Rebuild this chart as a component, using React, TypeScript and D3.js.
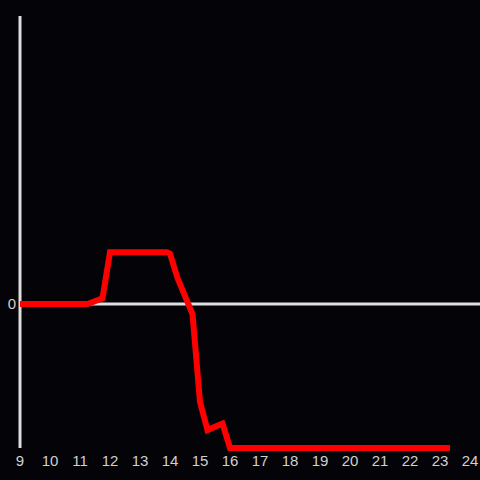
import React from "react";
import * as d3 from "d3";

const hours = [9, 11.25, 11.75, 12, 13.9, 14, 14.25, 14.75, 15, 15.25, 15.75, 16, 23.33];
const values = [0, 0, 0.04, 0.36, 0.36, 0.35, 0.18, -0.07, -0.68, -0.875, -0.83, -1, -1];
const xTicks = d3.range(9, 25);
const yTicks = [0];

export default function App() {
  const W = 480, H = 480;
  const x = d3.scaleLinear().domain([9, 24]).range([20, 470]);
  const y = d3.scaleLinear().domain([-1, 2]).range([448, 16]);
  const pts: [number, number][] = hours.map((h, i) => [h, values[i]]);
  const line = d3.line<[number, number]>().x(d => x(d[0])).y(d => y(d[1]));
  return (
    <svg width={W} height={H} style={{ position: "absolute", left: 0, top: 0, background: "#040307" }}>
      <rect x={0} y={0} width={W} height={H} fill="#040307" />
      <line x1={x(9)} x2={480} y1={y(0)} y2={y(0)} stroke="#dedede" strokeWidth={3} />
      <line x1={x(9)} x2={x(9)} y1={y(2)} y2={y(-1)} stroke="#dedede" strokeWidth={3} />
      <path d={line(pts) || ""} fill="none" stroke="#ff0000" strokeWidth={6} strokeLinejoin="miter" />
      {yTicks.map(t => (
        <text key={t} x={16} y={y(t)} dy="0.36em" textAnchor="end" fill="#d0d0d0" fontSize={15} fontFamily="Liberation Sans, Arial, sans-serif">{t}</text>
      ))}
      {xTicks.map(t => (
        <text key={t} x={x(t)} y={466} textAnchor="middle" fill="#d0d0d0" fontSize={15} fontFamily="Liberation Sans, Arial, sans-serif">{t}</text>
      ))}
    </svg>
  );
}
